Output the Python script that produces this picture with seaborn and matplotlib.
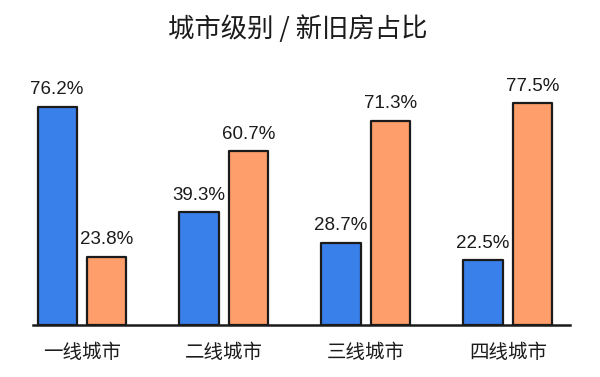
import pandas as pd
import matplotlib
matplotlib.use("Agg")
import matplotlib.pyplot as plt
import seaborn as sns

# data
cities = ["一线城市", "二线城市", "三线城市", "四线城市"]
new_share = [76.2, 39.3, 28.7, 22.5]
old_share = [23.8, 60.7, 71.3, 77.5]
series = ["新房", "旧房"]
title = "城市级别 / 新旧房占比"

df = pd.DataFrame({
    "city": cities * 2,
    "kind": [series[0]] * 4 + [series[1]] * 4,
    "share": new_share + old_share,
})

sns.set_theme(style="white")
plt.rcParams["font.family"] = ["Noto Sans CJK SC", "DejaVu Sans"]

fig = plt.figure(figsize=(6, 3.77), dpi=100)
ax = fig.add_axes([0.055, 0.138, 0.895, 0.65])

sns.barplot(data=df, x="city", y="share", hue="kind", order=cities, hue_order=series,
            palette=["#3a80ea", "#fe9e6a"], saturation=1, width=0.70, gap=0.21,
            edgecolor="#1b1b1b", linewidth=1.6, legend=False, ax=ax)

for p in ax.patches:
    p.set_joinstyle("round")

for c in ax.containers:
    ax.bar_label(c, labels=[f"{v:.1f}%" for v in c.datavalues], padding=6,
                 fontsize=13.5, color="#1b1b1b", family=["Liberation Sans", "DejaVu Sans"])

ax.set_xlim(-0.345, 3.437)
ax.set_ylim(0, 85.5)
ax.set_xlabel("")
ax.set_ylabel("")
ax.set_yticks([])
ax.tick_params(axis="x", length=0, pad=12, labelsize=14, labelcolor="#1b1b1b")
sns.despine(ax=ax, left=True)
ax.spines["bottom"].set_color("#1b1b1b")
ax.spines["bottom"].set_linewidth(1.8)

fig.suptitle(title, x=0.497, y=0.96, fontsize=19, fontweight="medium", color="#1b1b1b")

fig.savefig("out.png", dpi=100, facecolor="white")
